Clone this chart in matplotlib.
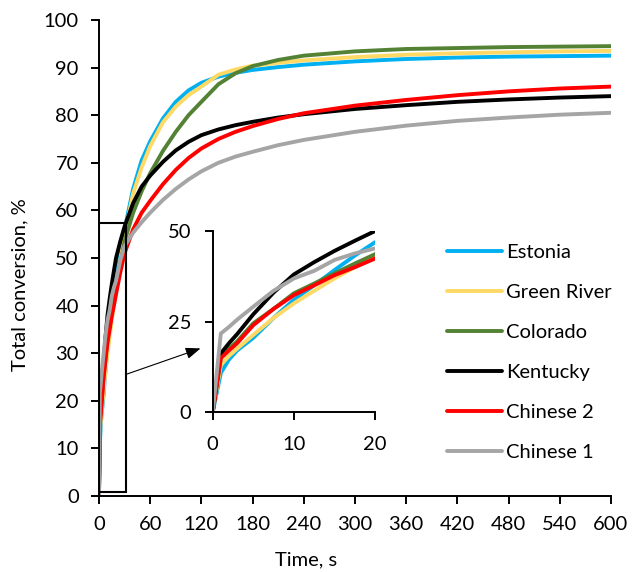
import matplotlib
matplotlib.use('Agg')
import matplotlib.pyplot as plt
from matplotlib.patches import Rectangle

plt.rcParams['font.family'] = ['Lato', 'DejaVu Sans']

# Время, с
time_s = [0, 1, 2, 3, 5, 7.5, 10, 12.5, 15, 17.5, 20, 25, 30, 40, 50, 60, 75, 90,
          105, 120, 140, 160, 180, 210, 240, 300, 360, 420, 480, 540, 600]

# Конверсия, %
estonia = [0, 10.8, 14.5, 17, 20.5, 26, 31, 35, 39.2, 43.2, 46.9, 51.5, 56, 64.5, 70.5, 74.5,
           79.3, 82.8, 85.2, 86.8, 88.1, 88.9, 89.5, 90.1, 90.6, 91.3, 91.8, 92.1, 92.3, 92.4, 92.5]
green_river = [0, 13, 15.5, 17.5, 21.3, 26, 30, 33.5, 36.9, 40, 43.2, 49.5, 55, 63.5, 69, 73.5,
               78.5, 81.8, 84.2, 86, 88.5, 89.6, 90.4, 91, 91.5, 92.2, 92.7, 93, 93.2, 93.4, 93.5]
colorado = [0, 14.9, 17.5, 19.5, 24.5, 28.5, 32.8, 35.5, 38.3, 41, 43.6, 48.8, 53.5, 59.5, 64, 67.8,
            72.5, 76.5, 80, 82.8, 86.5, 88.8, 90.3, 91.6, 92.5, 93.4, 93.9, 94.1, 94.3, 94.4, 94.5]
kentucky = [0, 16.2, 19, 21.5, 27, 33, 38, 41.4, 44.5, 47.3, 50, 53.5, 56.6, 61.5, 65, 67.3,
            70.2, 72.6, 74.4, 75.8, 77, 77.9, 78.6, 79.5, 80.2, 81.3, 82.1, 82.8, 83.3, 83.7, 84]
chinese2 = [0, 14.9, 17, 19, 24, 28.5, 32.3, 35, 37.8, 40, 42.4, 47, 51, 56, 59.5, 62,
            65.5, 68.5, 71, 73, 75, 76.5, 77.7, 79.2, 80.4, 82, 83.2, 84.2, 85, 85.6, 86]
chinese1 = [0, 21.7, 23.5, 25.5, 29.1, 33.5, 36.9, 39, 42, 43.8, 45.2, 49.5, 52.5, 55.3, 57.5, 59.5,
            62.2, 64.5, 66.5, 68.2, 70, 71.3, 72.3, 73.7, 74.8, 76.5, 77.8, 78.8, 79.5, 80.1, 80.5]

series_names = ['Estonia', 'Green River', 'Colorado', 'Kentucky', 'Chinese 2', 'Chinese 1']
series_values = [estonia, green_river, colorado, kentucky, chinese2, chinese1]
series_colors = ['#00B0F0', '#FFD966', '#548235', '#000000', '#FF0000', '#A5A5A5']

main_xticks = list(range(0, 601, 60))
main_yticks = list(range(0, 101, 10))
inset_xticks = [0, 10, 20]
inset_yticks = [0, 25, 50]

# Рамка увеличенной области и стрелка (координаты данных)
zoom_box = (0, 0.8, 32, 56.5)
arrow_from = (31, 25.5)
arrow_to = (119, 31)

FS = 14.5

fig = plt.figure(figsize=(6.32, 5.72), dpi=100)
ax = fig.add_axes([0.1566, 0.1329, 0.8101, 0.8322])
ins = fig.add_axes([0.3366, 0.2797, 0.2568, 0.3164])

for a in (ax, ins):
    for name, vals, col in zip(series_names, series_values, series_colors):
        a.plot(time_s, vals, color=col, lw=2.8, label=name, solid_capstyle='round')
    a.spines['top'].set_visible(False)
    a.spines['right'].set_visible(False)
    for s in ('left', 'bottom'):
        a.spines[s].set_linewidth(1.4)
    a.tick_params(direction='out', length=5.5, width=1.4, labelsize=FS)

ax.tick_params(axis='x', pad=9)
ax.tick_params(axis='y', pad=9)
ax.set_xlim(0, 600)
ax.set_ylim(0, 100)
ax.set_xticks(main_xticks)
ax.set_yticks(main_yticks)
ax.set_xlabel('Time, s', fontsize=FS, va='center')
ax.set_ylabel('Total conversion, %', fontsize=FS, va='center')
ax.xaxis.set_label_coords(0.404, -0.134)
ax.yaxis.set_label_coords(-0.154, 0.444)

ins.set_xlim(0, 20)
ins.set_ylim(0, 50)
ins.set_xticks(inset_xticks)
ins.set_yticks(inset_yticks)
ins.patch.set_alpha(0)
ins.tick_params(axis='x', pad=12)
ins.tick_params(axis='y', pad=10)

ax.add_patch(Rectangle(zoom_box[:2], zoom_box[2], zoom_box[3], fill=False,
                       ec='black', lw=1.5, zorder=5))
ax.annotate('', xy=arrow_to, xytext=arrow_from,
            arrowprops=dict(arrowstyle='-|>,head_length=0.9,head_width=0.35',
                            color='black', lw=0.8, shrinkA=0, shrinkB=0), zorder=6)

ax.legend(loc='upper left', bbox_to_anchor=(0.695, 0.587), bbox_transform=fig.transFigure,
          frameon=False, fontsize=FS, handlelength=2.7, handletextpad=0.2,
          labelspacing=1.13, borderaxespad=0)

fig.savefig('out.png', dpi=100)
